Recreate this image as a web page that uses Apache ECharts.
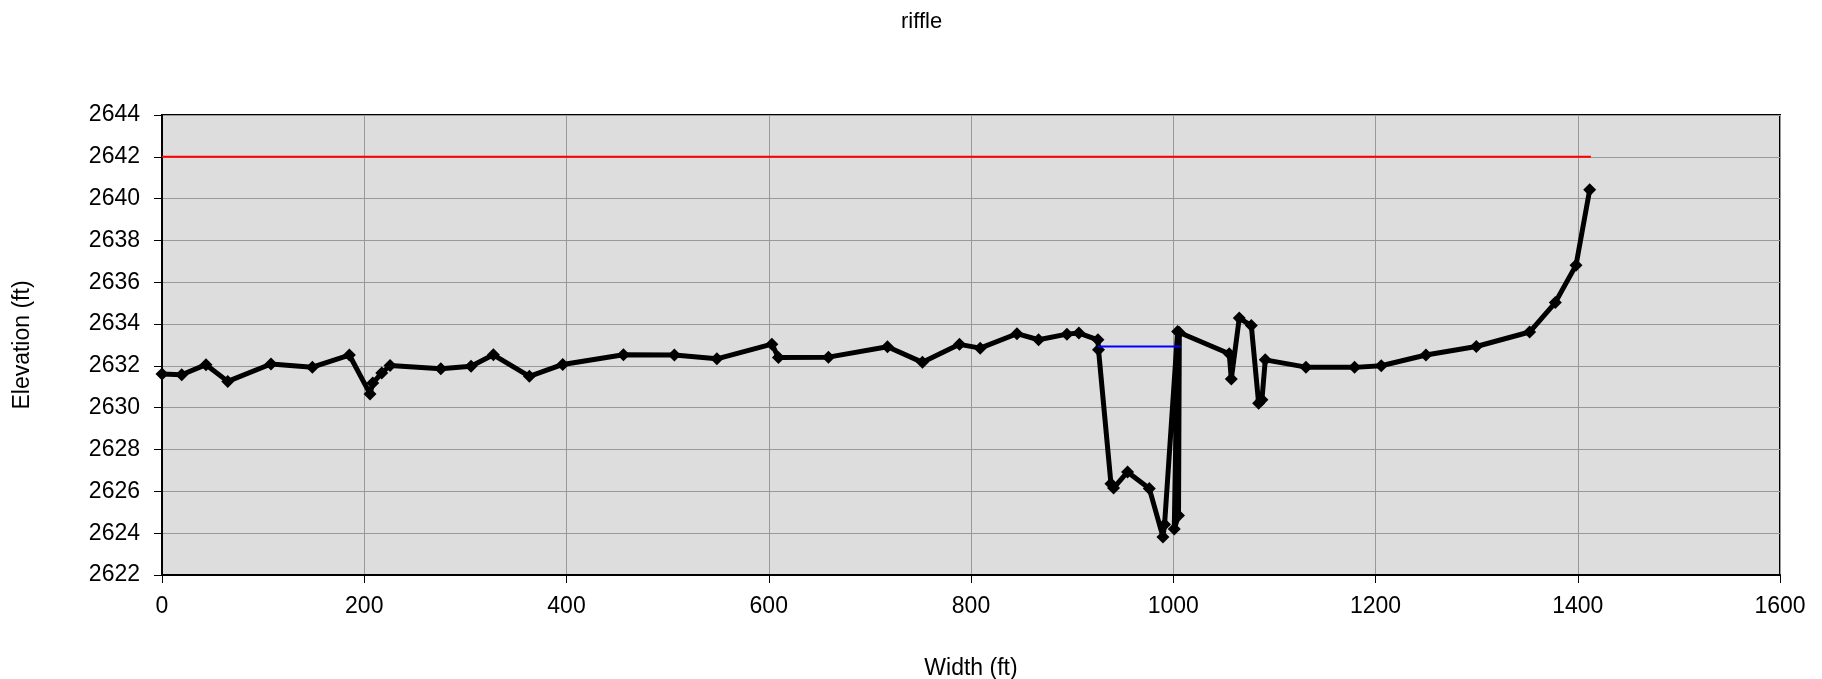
<!DOCTYPE html>
<html>
<head>
<meta charset="utf-8">
<script src="https://cdn.jsdelivr.net/npm/echarts@6/dist/echarts.min.js"></script>
<style>html,body{margin:0;padding:0;background:#fff;}#c{width:1822px;height:679px;}</style>
</head>
<body>
<div id="c"></div>
<script>
// Ground profile
const widthFt = [0, 19.5, 43.5, 65, 107.8, 148.7, 185.3, 205.7, 208.4, 217.3, 225.5, 275.7, 305.6, 327.7, 363.3, 396.3,
  456.3, 506.7, 548.7, 603.1, 609.6, 659, 717.4, 752, 788.6, 809.1, 845.4, 866.8, 894.9, 906.7, 925.5, 926.1,
  938.4, 941, 954.8, 976.3, 989.8, 991.4, 1004.3, 1001, 1005.2, 1006, 1055.4, 1057.4, 1065.3, 1077.2, 1084.4,
  1087.7, 1091, 1131.2, 1179.3, 1205.7, 1249.9, 1299.7, 1352.4, 1377.8, 1398.3, 1411.8];
const elevFt = [2631.61, 2631.58, 2632.06, 2631.26, 2632.09, 2631.94, 2632.52, 2630.66, 2631.18, 2631.66, 2632.02, 2631.86, 2631.98, 2632.53, 2631.50, 2632.07,
  2632.53, 2632.52, 2632.34, 2633.04, 2632.40, 2632.42, 2632.92, 2632.17, 2633.03, 2632.85, 2633.54, 2633.25, 2633.52, 2633.57, 2633.25, 2632.77,
  2626.36, 2626.16, 2626.93, 2626.14, 2623.82, 2624.41, 2633.65, 2624.20, 2624.84, 2633.60, 2632.58, 2631.37, 2634.29, 2633.93, 2630.22,
  2630.38, 2632.29, 2631.94, 2631.93, 2632.01, 2632.52, 2632.93, 2633.62, 2635.03, 2636.82, 2640.42];
// Reference lines
const redX = [0, 1413];
const redY = [2642, 2642];
const blueX = [925.5, 1007.6];
const blueY = [2632.93, 2632.93];
// Axes
const xTicks = [0, 1600, 200];
const yTicks = [2622, 2644, 2]; // min, max, interval

const zip = (a, b) => a.map((v, i) => [v, b[i]]);
const FONT = 'Liberation Sans, Arial, sans-serif';
const plain = v => String(v);

const chart = echarts.init(document.getElementById('c'), null, {renderer: 'canvas'});
chart.setOption({
  animation: false,
  backgroundColor: '#ffffff',
  title: {
    text: 'riffle', left: 896, top: 6,
    textStyle: {fontFamily: FONT, fontSize: 22, fontWeight: 'normal', color: '#000'}
  },
  grid: {
    left: 162, right: 42, top: 115, bottom: 104,
    show: true, backgroundColor: '#dddddd', borderColor: '#000', borderWidth: 2,
    outerBoundsMode: 'none'
  },
  xAxis: {
    type: 'value', min: xTicks[0], max: xTicks[1], interval: xTicks[2],
    name: 'Width (ft)', nameLocation: 'middle', nameGap: 82,
    nameTextStyle: {fontFamily: FONT, fontSize: 23, color: '#000'},
    axisLine: {show: true, lineStyle: {color: '#000', width: 2}},
    axisTick: {show: true, inside: false, length: 8, lineStyle: {color: '#000', width: 1}},
    axisLabel: {fontFamily: FONT, fontSize: 23, color: '#000', margin: 20, formatter: plain},
    splitLine: {show: true, lineStyle: {color: '#999999', width: 1}}
  },
  yAxis: {
    type: 'value', min: yTicks[0], max: yTicks[1], interval: yTicks[2],
    name: 'Elevation (ft)', nameLocation: 'middle', nameGap: 128, nameRotate: 90,
    nameTextStyle: {fontFamily: FONT, fontSize: 23, color: '#000'},
    axisLine: {show: true, lineStyle: {color: '#000', width: 2}},
    axisTick: {show: true, inside: false, length: 8, lineStyle: {color: '#000', width: 1}},
    axisLabel: {fontFamily: FONT, fontSize: 23, color: '#000', margin: 22, formatter: plain},
    splitLine: {show: true, lineStyle: {color: '#999999', width: 1}}
  },
  series: [
    {
      type: 'line', data: zip(redX, redY), symbol: 'none',
      lineStyle: {color: '#ff0000', width: 2}, z: 2
    },
    {
      type: 'line', data: zip(widthFt, elevFt), symbol: 'diamond', symbolSize: 13,
      itemStyle: {color: '#000'}, lineStyle: {color: '#000', width: 5}, z: 3
    },
    {
      type: 'line', data: zip(blueX, blueY), symbol: 'none',
      lineStyle: {color: '#0000ff', width: 2}, z: 4
    }
  ]
});
</script>
</body>
</html>
